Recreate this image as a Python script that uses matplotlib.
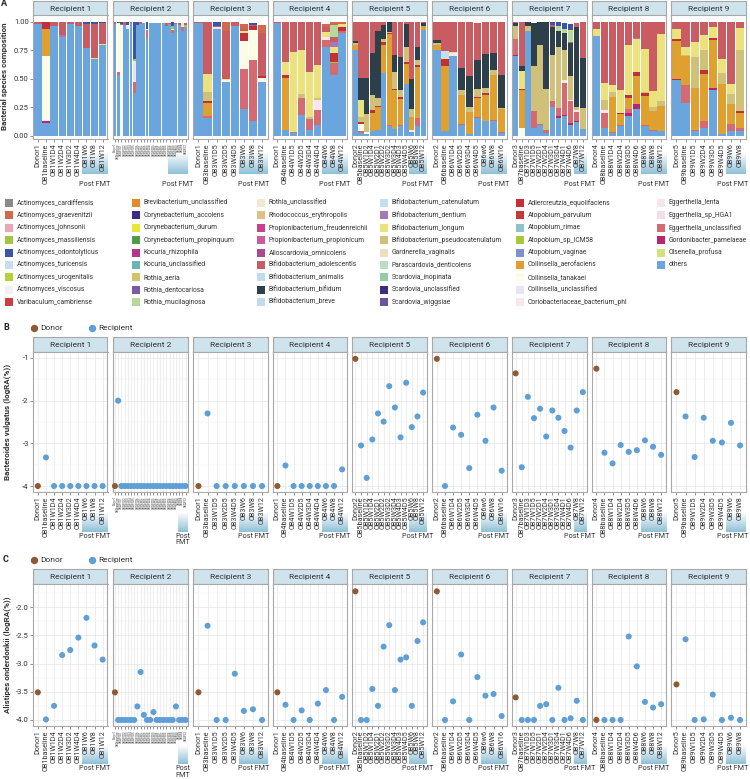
import numpy as np
import matplotlib
matplotlib.use("Agg")
import matplotlib.pyplot as plt
from matplotlib.patches import Rectangle
from matplotlib.lines import Line2D
from matplotlib.colors import LinearSegmentedColormap

plt.rcParams['font.family'] = ['Roboto', 'DejaVu Sans']

# ---------------- data ----------------
recipients = [f"Recipient {i}" for i in range(1, 10)]

samples_r1 = ["Donor1", "OB1baseline", "OB1W1D4", "OB1W2D4", "OB1W3D2", "OB1W4D4", "OB1W6", "OB1W8", "OB1W12"]
samples_r2 = ["Donor1", "OB2baseline", "OB2W1D1", "OB2W1D2", "OB2W1D3", "OB2W1D4", "OB2W1D5", "OB2W1D6",
              "OB2W2D1", "OB2W2D2", "OB2W2D3", "OB2W2D4", "OB2W2D5", "OB2W2D6", "OB2W3D1", "OB2W3D2",
              "OB2W3D3", "OB2W3D4", "OB2W3D5", "OB2W4D5", "OB2W6", "OB2W8", "OB2W12"]
samples_r3 = ["Donor1", "OB3baseline", "OB3W1D5", "OB3W2D5", "OB3W4D5", "OB3W6", "OB3W8", "OB3W12"]
samples_r4 = ["Donor1", "OB4baseline", "OB4W1D5", "OB4W2D5", "OB4W3D4", "OB4W4D4", "OB4W6", "OB4W8", "OB4W12"]
samples_r5 = ["Donor2", "OB5baseline", "OB5W1D2", "OB5W1D4", "OB5W2D1", "OB5W2D2", "OB5W3D2", "OB5W3D4",
              "OB5W4D3", "OB5W4D5", "OB5W6", "OB5W8", "OB5W12"]
samples_r6 = ["Donor2", "OB6baseline", "OB6W1D4", "OB6W2D5", "OB6W3D4", "OB6W4D5", "OB6w6", "OB6W8", "OB6W16"]
samples_r7 = ["Donor3", "OB7baseline", "OB7W1D3", "OB7W1D5", "OB7W2D1", "OB7W2D4", "OB7W3D1", "OB7W3D4",
              "OB7W4D1", "OB7W4D6", "OB7W8", "OB7W12"]
samples_r8 = ["Donor4", "OB8baseline", "OB8W1D4", "OB8W2D4", "OB8W3D5", "OB8W4D6", "OB8W6", "OB8W8", "OB8W12"]
samples_r9 = ["Donor5", "OB9baseline", "OB9W1D5", "OB9W2D4", "OB9W3D5", "OB9W4D5", "OB9W6", "OB9W8"]
samples = [samples_r1, samples_r2, samples_r3, samples_r4, samples_r5, samples_r6, samples_r7, samples_r8, samples_r9]

post_fmt_A = [3, 6, 3, 3, 3, 3, 2, 3, 2]
post_fmt_BC = [3, 3, 3, 3, 3, 3, 2, 3, 2]

species_names = [
    "Actinomyces_cardiffensis", "Actinomyces_graevenitzii", "Actinomyces_johnsonii", "Actinomyces_massiliensis",
    "Actinomyces_odontolyticus", "Actinomyces_turicensis", "Actinomyces_urogenitalis", "Actinomyces_viscosus",
    "Varibaculum_cambriense",
    "Brevibacterium_unclassified", "Corynebacterium_accolens", "Corynebacterium_durum", "Corynebacterium_propinquum",
    "Kocuria_rhizophila", "Kocuria_unclassified", "Rothia_aeria", "Rothia_dentocariosa", "Rothia_mucilaginosa",
    "Rothia_unclassified", "Rhodococcus_erythropolis", "Propionibacterium_freudenreichii",
    "Propionibacterium_propionicum", "Alloscardovia_omnicolens", "Bifidobacterium_adolescentis",
    "Bifidobacterium_animalis", "Bifidobacterium_bifidum", "Bifidobacterium_breve",
    "Bifidobacterium_catenulatum", "Bifidobacterium_dentium", "Bifidobacterium_longum",
    "Bifidobacterium_pseudocatenulatum", "Gardnerella_vaginalis", "Parascardovia_denticolens",
    "Scardovia_inopinata", "Scardovia_unclassified", "Scardovia_wiggsiae",
    "Adlercreutzia_equolifaciens", "Atopobium_parvulum", "Atopobium_rimae", "Atopobium_sp_ICM58",
    "Atopobium_vaginae", "Collinsella_aerofaciens", "Collinsella_tanakaei", "Collinsella_unclassified",
    "Coriobacteriaceae_bacterium_phl",
    "Eggerthella_lenta", "Eggerthella_sp_HGA1", "Eggerthella_unclassified", "Gordonibacter_pamelaeae",
    "Olsenella_profusa", "others",
]
species_colors = [
    "#8c8888", "#d2694e", "#e9a7b9", "#9dc641", "#3c54a5", "#c6def1", "#b7d13c", "#f5eff1", "#c8413f",
    "#e08b2c", "#3e2c84", "#e9e63a", "#4b9b4a", "#b7368a", "#6db3b6", "#d2c46c", "#7c58a2", "#b4d99a",
    "#f6e6d4", "#e3be89", "#c7428a", "#c75b9b", "#a84a8c", "#c95b62", "#bedbf0", "#2d3f4a", "#c0dbf0",
    "#c3ddf1", "#a878b4", "#ebe27e", "#cfc17a", "#f1dcc4", "#b9dcc9", "#96cda3", "#3d2c7f", "#6b52a1",
    "#c22f37", "#c43a3b", "#8fc1c9", "#a6c93b", "#7f90cd", "#dfa02f", "#fcfbe6", "#e8e5f3", "#f8e5ee",
    "#f8e6ee", "#f3dde8", "#d66a72", "#b9246f", "#d8e07c", "#6aa5de",
]

def Z(n):
    return [0.0] * n

# relative abundance per species; samples in order R1 (9) R2 (23) R3 (8) R4 (9) R5 (13) R6 (9) R7 (12) R8 (9) R9 (8)
others = ([.98, .11, .965, .865, .98, .965, .77, .67, .80]
          + [.98, .535, 0, .975, .94, .985, .375, .975, .98, .99, .86, .99, .99, .99, .99, .985, .96, .98, .90, .98, .97, .92, .95]
          + [.985, .155, .935, .475, .965, .23, .125, .475]
          + [.99, .045, .02, .185, .05, .095, .78, .535, .90]
          + [.755, .025, .01, .04, .05, .55, .08, .06, .08, .45, .03, .08, .93]
          + [.755, .04, .695, .095, .01, .155, .125, .125, .025]
          + [.695, 0, .92, .065, .095, .02, .255, .155, .17, .095, .12, .06]
          + [.875, .065, .02, .08, .17, .23, .08, .04, .04]
          + [.49, .285, .04, .065, .40, .01, .04, .04])
gordonibacter = (Z(1) + [.015] + Z(7) + Z(23) + Z(8) + Z(9) + Z(13) + Z(9)
                 + [.015, 0, 0, 0, 0, 0, 0, .02, .015, .015, .01, 0]
                 + [0, 0, 0, 0, .03, .045, 0, 0, 0]
                 + [.01, 0, 0, 0, .015, 0, 0, 0])
eggerthella_uncl = (Z(9)
                    + [0, .02, 0, 0, 0, 0, .10, 0, 0, 0, .065, 0, 0, 0, 0, 0, 0, 0, .03, 0, 0, .03, 0]
                    + [0, .015, 0, 0, 0, .355, .54, 0]
                    + [0, 0, .015, .145, .10, .13, .06, .10, .02]
                    + [0, .015, 0, 0, 0, 0, .01, 0, .01, 0, 0, .075, 0]
                    + [0, 0, 0, .01, 0, .01, 0, .01, .01]
                    + [.14, 0, 0, .15, .01, .03, .05, .07, .28, .19, .08, 0]
                    + [0, .13, .01, .01, .03, 0, .01, .005, 0]
                    + [0, .16, .01, .06, 0, 0, .06, .03])
eggerthella_lenta = ([0, .01] + Z(7) + Z(23) + Z(8)
                     + [0, 0, 0, 0, 0, .09, .03, 0, 0]
                     + Z(10) + [.015] + Z(2)
                     + [0, 0, .03] + Z(6)
                     + Z(8) + [.02, .015, .015, 0]
                     + [0, .03] + Z(7) + Z(8))
collinsella_uncl = (Z(9)
                    + [0, 0, 0, 0, .03, 0, .18, 0, 0, 0, .01, 0, 0, 0, 0, 0, 0, 0, .01, 0, 0, .04, 0]
                    + [0, 0, .02, 0, 0, 0, 0, 0]
                    + Z(9) + Z(13) + Z(9) + Z(12) + Z(9) + Z(8))
collinsella_tanakaei = ([0, .56] + Z(7)
                        + [0, .43, .97] + Z(20)
                        + [0, 0, 0, .01, 0, .245, .265, .03]
                        + Z(9)
                        + [0, .06, .02] + Z(10)
                        + Z(9)
                        + [0, .065] + Z(10)
                        + Z(9) + Z(8))
collinsella_aero = ([0, .24] + Z(7) + Z(23)
                    + [0, .115] + Z(6)
                    + [0, .46] + Z(7)
                    + [.045, 0, 0, .16, .20, .25, .80, .34, .235, .18, .12, .45, .03]
                    + [.045, .57, 0, .25, .20, .165, .23, .40, .195]
                    + [0, .335] + Z(10)
                    + [0, 0, .31, .10, .10, .25, .26, .175, .22]
                    + [.33, .25, .37, .42, .425, .44, .175, .13])
atopobium_icm58 = (Z(9)
                   + Z(6) + [.02] + Z(11) + [.025] + Z(3) + [.02]
                   + Z(8)
                   + Z(7) + [.015, 0]
                   + Z(13) + Z(9) + Z(12) + Z(9) + Z(8))
adlercreutzia = ([0, .06] + Z(7) + Z(23)
                 + [0, .02, 0, 0, 0, .07, .03, .02]
                 + [0, .03, 0, 0, 0, 0, 0, .073, .035]
                 + [0, .015, 0, .025, .01, .02, .01, .01, .015, .02, 0, .015, 0]
                 + [0, .06, 0, 0, 0, .01, .015, 0, 0]
                 + [0, .01] + Z(10)
                 + [0, 0, 0, .01, .03, .035, .02, 0, 0]
                 + [.015, 0, 0, .03, .015, 0, 0, .015])
bif_pseudo = (Z(9) + Z(23)
              + [0, .075] + Z(6)
              + [0, 0, 0, .035, .015, .015, 0, 0, 0]
              + [.015, .045, .16, .13, .07, .03, .01, .15, .06, .13, .07, .04, 0]
              + [.015, 0, 0, .045, .045, .07, .05, .045, .015]
              + [.11, 0, .04, .40, .69, .36, .40, .53, .27, .205, .03, .18]
              + [0, .09, .045, 0, 0, 0, .01, .03, .045]
              + [0, .015, .27, .175, 0, .10, .09, .54])
bif_longum = ([0, 0, 0, 0, 0, 0, 0, .01, .005] + Z(23)
              + [0, .165, 0, .015, 0, .02, 0, 0]
              + [0, .115, .70, .39, .395, .29, .04, .058, .025]
              + [0, .15] + Z(11)
              + [0, .015, .01] + Z(6)
              + [0, .16] + Z(10)
              + [.065, .145, .06, .20, .44, .285, .38, .145, .585]
              + [.09, .07, .13, .13, .10, .12, .09, .19])
bif_dentium = ([0, 0, 0, .015] + Z(5) + Z(23) + Z(8)
               + Z(7) + [.044, 0]
               + Z(13) + Z(9) + Z(12)
               + Z(5) + [.01] + Z(3) + Z(8))
bif_catenulatum = Z(9) + Z(23) + Z(8) + Z(9) + Z(13) + [0, .055] + Z(7) + Z(12) + Z(9) + Z(8)
bif_bifidum = (Z(9) + Z(23) + Z(8) + Z(9)
               + [.02, .20, .32, .37, .585, .12, .085, .15, .29, .20, .26, .12, .03]
               + [.025, 0, 0, .19, .265, .255, .30, .145, .29]
               + [.03, .045, .035, .375, .20, .585, .25, .14, .145, .29, .70, .44]
               + Z(9) + Z(8))
bif_adolescentis = ([.02, 0, .03, .12, .02, .035, .21, .30, .18]
                    + [.02, 0, .01, .025, 0, .01, 0, 0, .02, 0, 0, 0, 0, 0, 0, 0, .03, .01, 0, .01, .02, 0, .02]
                    + [.015, .455, .01, .42, .03, .02, .01, .38]
                    + [.01, .35, .26, .24, .435, .375, .04, .044, 0]
                    + [.165, .49, .49, .275, .085, .03, .005, .29, .31, .02, .505, .22, .01]
                    + [.16, .26, .26, .405, .48, .32, .275, .275, .465]
                    + [.01, .385, 0, 0, 0, 0, .02, 0, 0, .015, .03, .315]
                    + [.055, .54, .555, .60, .20, .145, .24, .605, .11]
                    + [.065, .22, .18, .12, .045, .33, .545, .055])
rothia_mucilaginosa = (Z(9) + Z(23) + Z(8) + Z(7) + [.10, 0] + Z(13) + Z(9)
                       + Z(7) + [.05, .04, .09, 0, 0] + Z(9) + Z(8))
coryne_durum = Z(9) + Z(23) + Z(8) + Z(9) + Z(13) + Z(9) + Z(9) + [.015, 0, 0] + Z(9) + Z(8)
actino_odontolyticus = ([0, 0, 0, 0, 0, 0, .015, .015, .01]
                        + [0, .015, .02, 0, .03, 0, .325, .02, 0, 0, .06, 0, 0, 0, 0, 0, 0, 0, .03, 0, 0, 0, 0]
                        + [0, 0, .03, 0, 0, 0, .015, 0]
                        + Z(9) + Z(13) + Z(9)
                        + [0, 0, 0, 0, 0, 0, .02, .03, .05, .05, 0, 0]
                        + Z(9) + Z(8))
actino_graevenitzii = (Z(9) + Z(23)
                       + [0, 0, 0, .075, 0, .04, 0, .07]
                       + [0, 0, 0, 0, 0, 0, .03, .026, .015]
                       + Z(13) + Z(9) + Z(12) + Z(9) + Z(8))

# Bacteroides vulgatus log RA
vulgatus_r1 = [-4.0, -3.33, -4.0, -4.0, -4.0, -4.0, -4.0, -4.0, -4.0]
vulgatus_r2 = [-4.0, -2.0, -4.0, -4.0, -4.0, -4.0, -4.0, -4.0, -4.0, -4.0, -4.0, -4.0, -4.0, -4.0,
               -4.0, -4.0, -4.0, -4.0, -4.0, -4.0, -4.0, -4.0, -4.0]
vulgatus_r3 = [-4.0, -2.30, -4.0, -4.0, -4.0, -4.0, -4.0, -4.0]
vulgatus_r4 = [-4.0, -3.52, -4.0, -4.0, -4.0, -4.0, -4.0, -4.0, -3.61]
vulgatus_r5 = [-1.02, -3.05, -3.81, -2.91, -2.30, -2.49, -1.66, -2.16, -2.86, -1.58, -2.62, -2.37, -1.81]
vulgatus_r6 = [-1.02, -4.0, -2.63, -2.80, -3.58, -2.33, -2.94, -2.16, -3.64]
vulgatus_r7 = [-1.36, -3.56, -1.91, -2.41, -2.19, -2.84, -2.23, -2.40, -2.71, -3.10, -2.23, -1.80]
vulgatus_r8 = [-1.25, -3.22, -3.47, -3.04, -3.20, -3.16, -2.93, -3.08, -3.27]
vulgatus_r9 = [-1.80, -2.37, -3.32, -2.40, -2.94, -2.98, -2.52, -3.05]

# Alistipes onderdonkii log RA
onder_r1 = [-3.51, -3.99, -3.75, -2.85, -2.76, -2.54, -2.19, -2.68, -2.93]
onder_r2 = [-3.51, -4.0, -4.0, -4.0, -4.0, -4.0, -4.0, -3.76, -3.15, -3.91, -4.0, -4.0, -3.86, -4.0,
            -4.0, -4.0, -4.0, -4.0, -4.0, -3.76, -4.0, -4.0, -4.0]
onder_r3 = [-3.51, -2.33, -4.0, -4.0, -3.18, -3.84, -3.81, -4.0]
onder_r4 = [-3.51, -3.73, -4.0, -3.83, -4.0, -3.71, -3.47, -4.0, -3.59]
onder_r5 = [-1.72, -4.0, -4.0, -3.45, -3.75, -2.70, -2.32, -3.47, -2.93, -2.89, -3.75, -2.60, -2.27]
onder_r6 = [-1.72, -4.0, -3.67, -2.84, -4.0, -3.24, -3.57, -3.54, -3.93]
onder_r7 = [-3.60, -4.0, -4.0, -4.0, -3.75, -3.72, -4.0, -3.43, -4.0, -3.97, -3.66, -4.0]
onder_r8 = [-4.0, -4.0, -4.0, -4.0, -2.52, -3.05, -3.68, -3.78, -3.72]
onder_r9 = [-3.37, -2.57, -4.0, -3.99, -3.55, -4.0, -3.96, -4.0]

vulgatus = [vulgatus_r1, vulgatus_r2, vulgatus_r3, vulgatus_r4, vulgatus_r5, vulgatus_r6, vulgatus_r7, vulgatus_r8, vulgatus_r9]
onderdonkii = [onder_r1, onder_r2, onder_r3, onder_r4, onder_r5, onder_r6, onder_r7, onder_r8, onder_r9]

composition = {
    "others": others,
    "Gordonibacter_pamelaeae": gordonibacter,
    "Eggerthella_unclassified": eggerthella_uncl,
    "Eggerthella_lenta": eggerthella_lenta,
    "Collinsella_unclassified": collinsella_uncl,
    "Collinsella_tanakaei": collinsella_tanakaei,
    "Collinsella_aerofaciens": collinsella_aero,
    "Atopobium_sp_ICM58": atopobium_icm58,
    "Adlercreutzia_equolifaciens": adlercreutzia,
    "Bifidobacterium_pseudocatenulatum": bif_pseudo,
    "Bifidobacterium_longum": bif_longum,
    "Bifidobacterium_dentium": bif_dentium,
    "Bifidobacterium_catenulatum": bif_catenulatum,
    "Bifidobacterium_bifidum": bif_bifidum,
    "Bifidobacterium_adolescentis": bif_adolescentis,
    "Rothia_mucilaginosa": rothia_mucilaginosa,
    "Corynebacterium_durum": coryne_durum,
    "Actinomyces_odontolyticus": actino_odontolyticus,
    "Actinomyces_graevenitzii": actino_graevenitzii,
}
color_of = dict(zip(species_names, species_colors))

# ---------------- figure ----------------
W, H = 750, 779
fig = plt.figure(figsize=(W / 100, H / 100), dpi=100)

def rect(left, top, width, height):
    return [left / W, 1 - (top + height) / H, width / W, height / H]

PANEL_LEFTS = [33, 113, 193, 272.5, 352, 432, 512, 591.5, 671]
PANEL_W = 74.5
BORDER = '#a8a8a8'
STRIP_FC = '#cfe3ec'
TXT = '#333333'
DONOR_C = '#8e5a33'
RECIP_C = '#5e9fd6'
grad_cmap = LinearSegmentedColormap.from_list('postfmt', ['#ffffff', '#8fc0d7'])

def strip(left, top, bottom, text):
    sax = fig.add_axes(rect(left, top, PANEL_W, bottom - top))
    sax.set_facecolor(STRIP_FC)
    sax.set_xticks([])
    sax.set_yticks([])
    for s in sax.spines.values():
        s.set_color(BORDER)
        s.set_linewidth(0.8)
    sax.text(0.5, 0.47, text, ha='center', va='center', fontsize=6, color=TXT, transform=sax.transAxes)

def post_fmt(left, n, npost, gtop, gbot, ttop, two_lines=False):
    unit = PANEL_W / (n - 1 + 1.2)
    x0 = left + (n - npost - 0.5 + 0.6) * unit
    x1 = left + PANEL_W
    gax = fig.add_axes(rect(x0, gtop, x1 - x0, gbot - gtop), zorder=-1)
    gax.imshow(np.linspace(0, 1, 64).reshape(-1, 1), cmap=grad_cmap, aspect='auto', extent=(0, 1, 0, 1))
    gax.axis('off')
    cx = min((x0 + x1) / 2, W - 17)
    fig.text(cx / W, 1 - ttop / H, "Post\nFMT" if two_lines else "Post FMT",
             ha='center', va='top', fontsize=5.2, color=TXT, linespacing=0.95)

def style_axes(ax, labels, first):
    for s in ax.spines.values():
        s.set_color(BORDER)
        s.set_linewidth(0.8)
    n = len(labels)
    ax.set_xlim(-0.6, n - 0.4)
    ax.set_xticks(range(n))
    ax.set_xticklabels(labels, rotation=90, fontsize=2.0 if n > 15 else 5.2, color=TXT)
    ax.tick_params(axis='both', length=2, width=0.5, color='#666666', labelsize=5.5,
                   labelcolor=TXT, pad=1)
    ax.tick_params(axis='x', labelsize=2.0 if n > 15 else 5.2)
    if not first:
        ax.tick_params(axis='y', left=False, labelleft=False)

# ---- Panel A ----
offsets = np.cumsum([0] + [len(s) for s in samples])
for k in range(9):
    left = PANEL_LEFTS[k]
    labels = samples[k]
    n = len(labels)
    strip(left, 1, 15.5, recipients[k])
    ax = fig.add_axes(rect(left, 15.5, PANEL_W, 123.5))
    base = np.zeros(n)
    for name in reversed(species_names):
        if name in composition:
            vals = np.array(composition[name][offsets[k]:offsets[k] + n], dtype=float)
            ax.bar(np.arange(n), vals, width=0.9, bottom=base, color=color_of[name], linewidth=0)
            base += vals
    ax.set_ylim(-0.03, 1.055)
    ax.set_yticks([0, 0.25, 0.5, 0.75, 1.0])
    ax.set_yticklabels(["0.00", "0.25", "0.50", "0.75", "1.00"])
    style_axes(ax, labels, k == 0)
    post_fmt(left, n, post_fmt_A[k], 152, 174, 181.5)

fig.text(4.5 / W, 1 - 76 / H, "Bacterial species composition", rotation=90, ha='center', va='center',
         fontsize=5.8, fontweight='bold', color=TXT)
fig.text(1 / W, 1 - 4 / H, "A", ha='left', va='center', fontsize=6.5, fontweight='bold', color='#222222')

# legend A
col_x = [5, 132, 257, 380, 516, 657]
for idx, name in enumerate(species_names):
    c, r = divmod(idx, 9)
    x = col_x[c]
    y = 203 + 12.4 * r
    fig.patches.append(Rectangle((x / W, 1 - (y + 4) / H), 8 / W, 8 / H, transform=fig.transFigure,
                                 facecolor=color_of[name], edgecolor='none'))
    fig.text((x + 11.5) / W, 1 - y / H, name, ha='left', va='center', fontsize=4.9, color=TXT)

# ---- Panels B and C ----
def scatter_row(values, strip_top, top, bottom, ylim, yticks, yticklabels, yminor, ylab, letter, leg_y,
                gtop, gbot, ttop):
    fig.text(3 / W, 1 - (leg_y - 1) / H, letter, ha='left', va='center', fontsize=6.5, fontweight='bold',
             color='#222222')
    for xm, txt in [(34, "Donor"), (92, "Recipient")]:
        fig.add_artist(Line2D([xm / W], [1 - leg_y / H], transform=fig.transFigure, marker='o',
                              markersize=4.3, color=DONOR_C if txt == "Donor" else RECIP_C, linestyle='none'))
        fig.text((xm + 6) / W, 1 - leg_y / H, txt, ha='left', va='center', fontsize=6, color=TXT)
    for k in range(9):
        left = PANEL_LEFTS[k]
        labels = samples[k]
        n = len(labels)
        strip(left, strip_top, top, recipients[k])
        ax = fig.add_axes(rect(left, top, PANEL_W, bottom - top))
        ax.set_axisbelow(True)
        vals = values[k]
        cols = [DONOR_C] + [RECIP_C] * (n - 1)
        ax.scatter(np.arange(n), vals, s=19, c=cols, linewidths=0, zorder=3, clip_on=False)
        ax.set_ylim(*ylim)
        ax.set_yticks(yticks)
        ax.set_yticklabels(yticklabels)
        ax.set_yticks(yminor, minor=True)
        ax.tick_params(axis='y', which='minor', length=0)
        ax.grid(True, which='major', color='#e6e6e6', linewidth=0.5)
        ax.grid(True, which='minor', axis='y', color='#f2f2f2', linewidth=0.35)
        style_axes(ax, labels, k == 0)
        post_fmt(left, n, post_fmt_BC[k], gtop, gbot, ttop, two_lines=(k == 1))
    fig.text(7 / W, 1 - (top + bottom) / 2 / H, ylab, rotation=90, ha='center', va='center',
             fontsize=5.8, fontweight='bold', color=TXT)

scatter_row(vulgatus, 337, 352, 492, (-4.14, -0.86), [-4, -3, -2, -1], ["-4", "-3", "-2", "-1"],
            [-3.5, -2.5, -1.5], "Bacteroides vulgatus (logRA(%))", "B", 328, 513, 532, 532.5)
scatter_row(onderdonkii, 569, 584, 726, (-4.107, -1.59), [-4.0, -3.5, -3.0, -2.5, -2.0],
            ["-4.0", "-3.5", "-3.0", "-2.5", "-2.0"], [-3.75, -3.25, -2.75, -2.25, -1.75],
            "Alistipes onderdonkii (logRA(%))", "C", 560, 745, 764, 765)

fig.savefig("out.png", dpi=100)
